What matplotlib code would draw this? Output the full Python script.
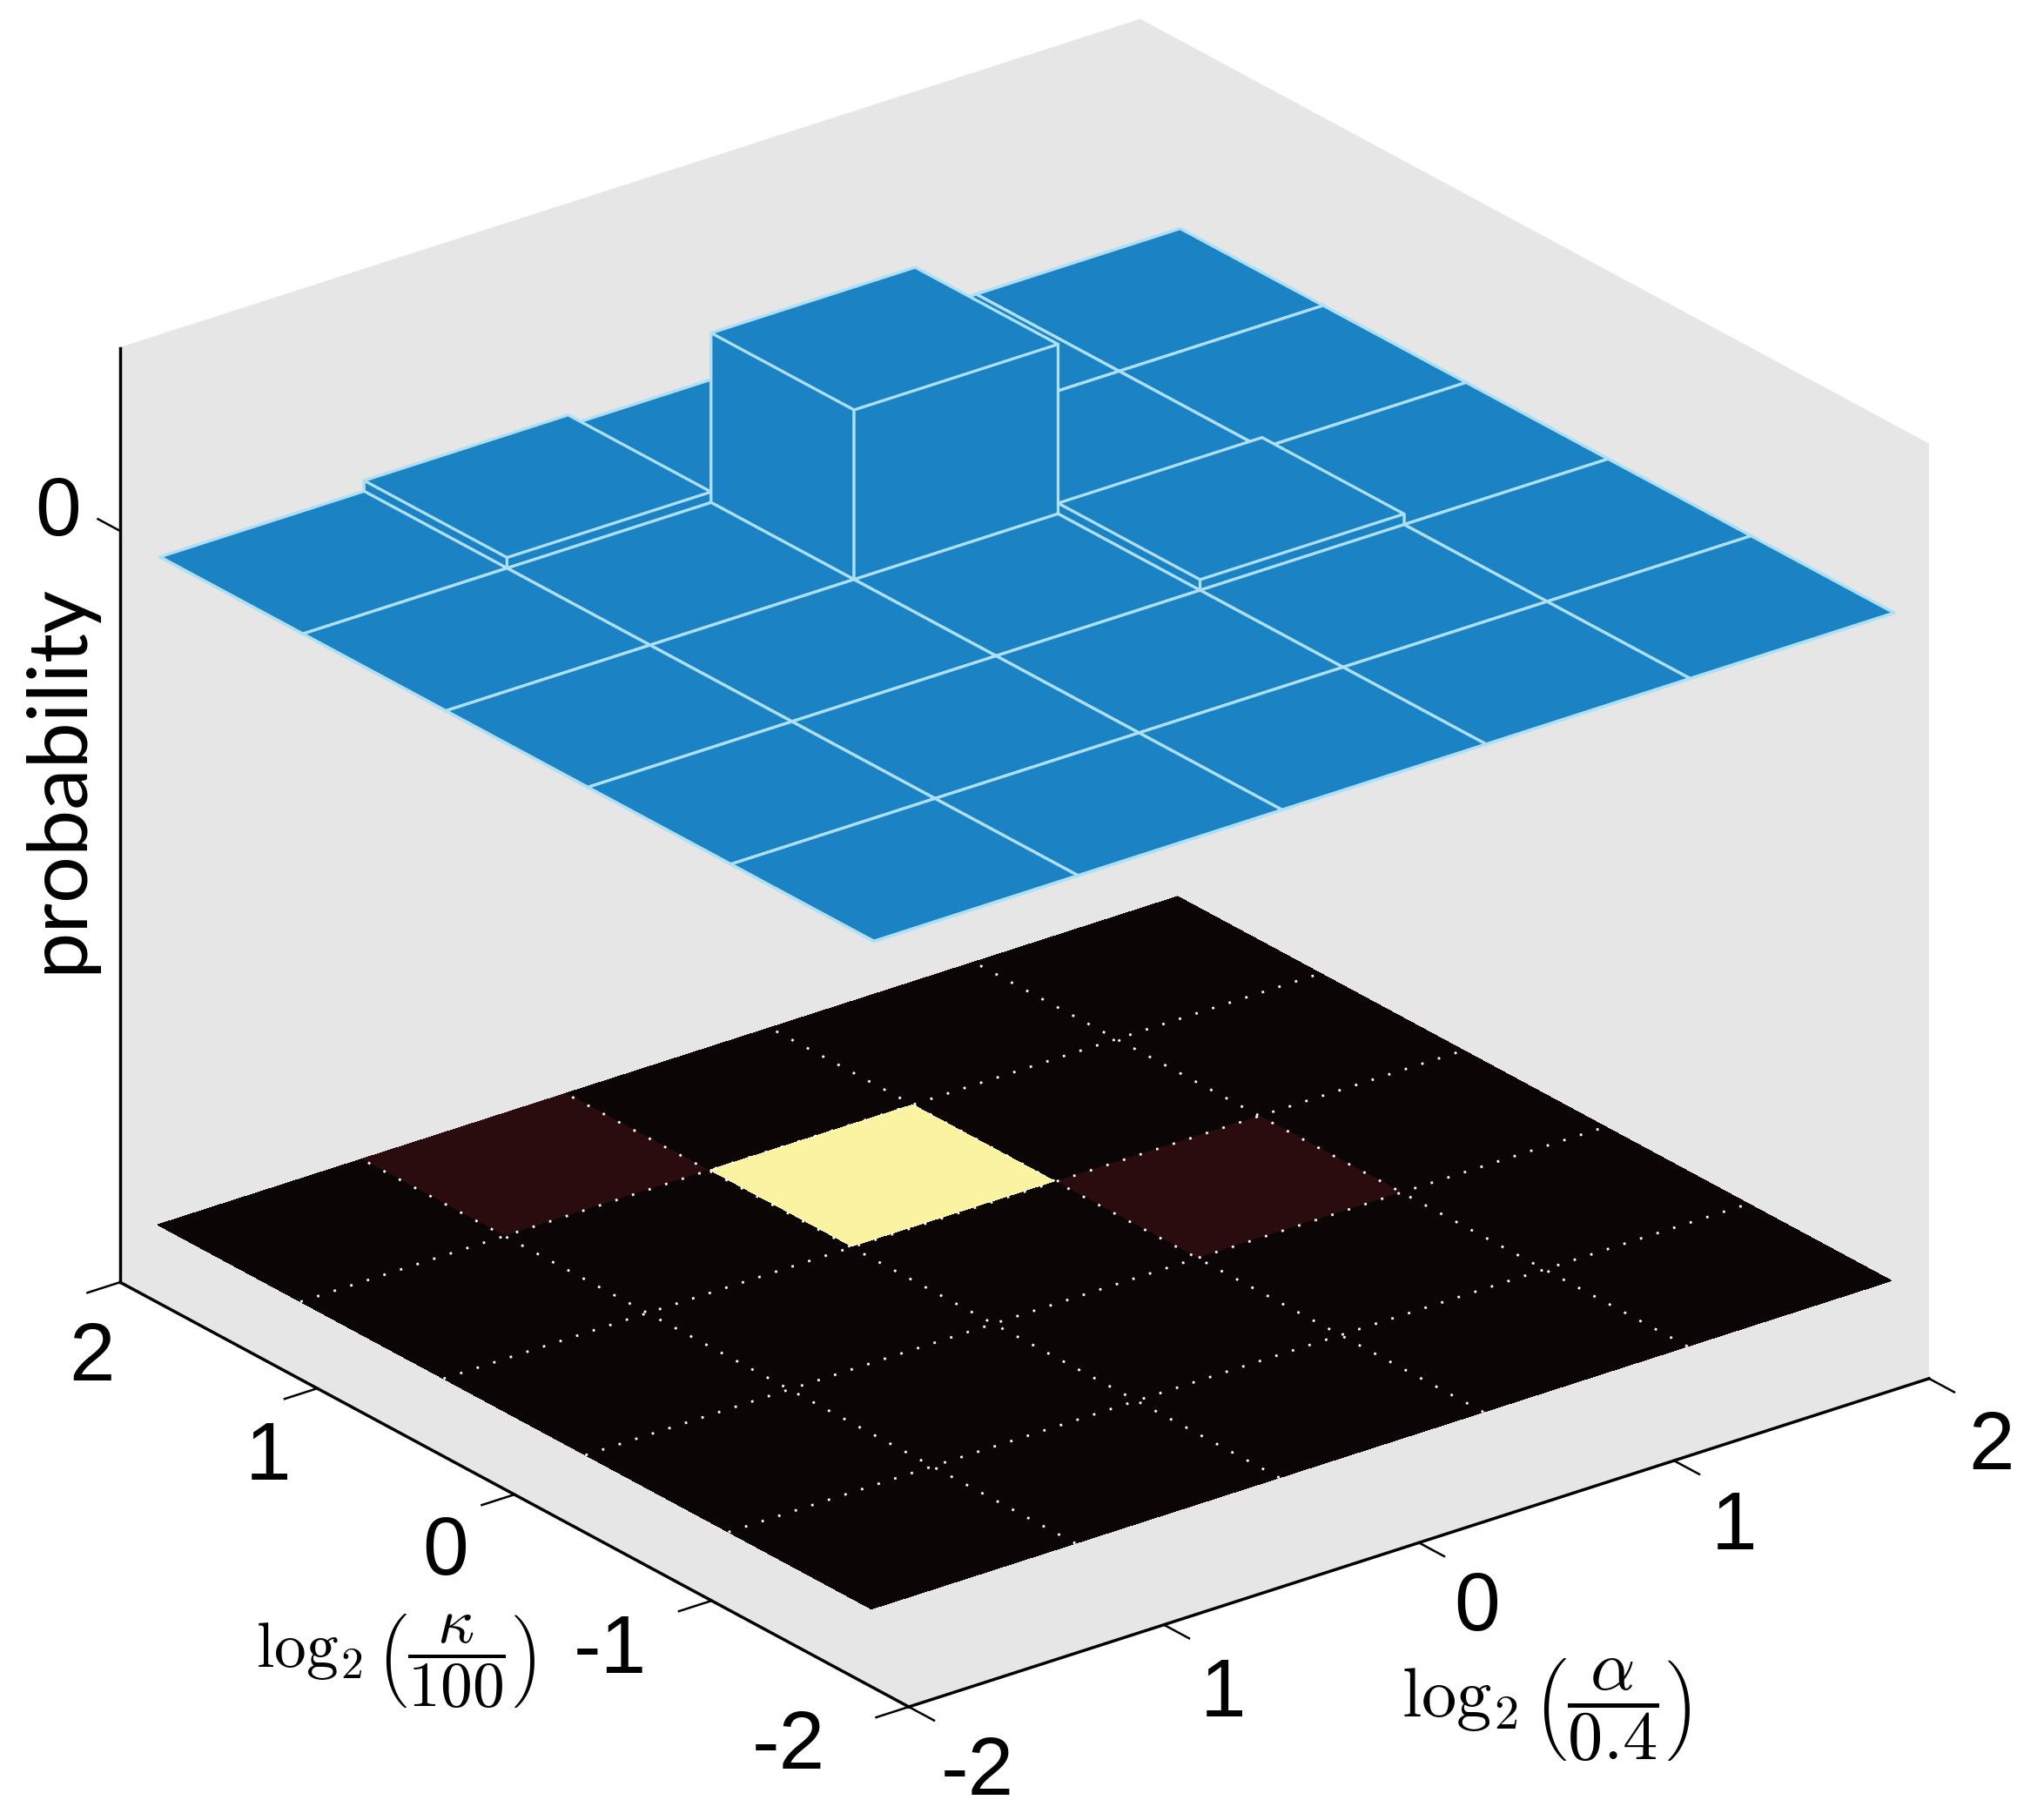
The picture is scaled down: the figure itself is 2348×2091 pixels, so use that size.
import numpy as np
import matplotlib
matplotlib.use('Agg')
import matplotlib.pyplot as plt
from matplotlib.colors import LinearSegmentedColormap
from mpl_toolkits.mplot3d import proj3d

# cell edges and probabilities
alpha_edges = [-2.0, -1.2, -0.4, 0.4, 1.2, 2.0]
kappa_edges = [-1.81, -1.085, -0.36, 0.36, 1.085, 1.81]
# the blue surface sits a hair off the floor grid in the picture
surf_alpha_edges = [-1.994, -1.194, -0.394, 0.406, 1.206, 2.006]
surf_kappa_edges = [-1.815, -1.09, -0.365, 0.355, 1.08, 1.805]
prob = [[0.0, 0.0, 0.0, 0.0, 0.0],
        [0.0, 0.0, 0.0, 0.0, 0.0],
        [0.0, 0.0, 0.0, 0.055, 0.0],
        [0.0, 0.0, 0.88, 0.0, 0.0],
        [0.0, 0.055, 0.0, 0.0, 0.0]]
alpha_ticks = [-2, -1, 0, 1, 2]
alpha_labels = ['-2', '1', '0', '1', '2']
kappa_ticks = [-2, -1, 0, 1, 2]
kappa_labels = ['-2', '-1', '0', '1', '2']
z_ticks = [0.03]
z_labels = ['0']
z_min, z_max = -3.87, 0.98
floor_z = -3.467

# where the tick labels sit, in pixels of the full picture
alpha_label_x = [1123, 1405, 1697, 1992, 2287]
alpha_label_y = [2037, 1948, 1849, 1756, 1663]
kappa_label_x = [906, 701, 512, 308, 105]
kappa_label_y = [2008, 1898, 1785, 1676, 1562]
z_label_x = [67]
z_label_y = [590]

W, H = 2348, 2091
blue = '#1b82c4'
edge_blue = '#ade0f7'
wall = '#e6e6e6'
tick_font = 'Liberation Sans'
tick_size = 68

plt.rcParams['mathtext.fontset'] = 'cm'

fig = plt.figure(figsize=(W / 100, H / 100), dpi=100)
ax = fig.add_axes([0, 0, 1, 1], projection='3d', computed_zorder=False)
ax.set_proj_type('ortho')
ax.view_init(elev=24.6, azim=-127.71)
ax.set_box_aspect((990, 990, 789))
ax.set_xlim(-2, 2, view_margin=0)
ax.set_ylim(-2, 2, view_margin=0)
ax.set_zlim(z_min, z_max, view_margin=0)

# place the axes so the box lands where the reference has it
M = ax.get_proj()
front = proj3d.proj_transform(-2, -2, z_min, M)
left = proj3d.proj_transform(-2, 2, z_min, M)
right = proj3d.proj_transform(2, -2, z_min, M)
vx0, vx1 = ax.viewLim.intervalx
vy0, vy1 = ax.viewLim.intervaly
k = 2078 / (right[0] - left[0])
S = k * (vx1 - vx0)
L = 1044 - (front[0] - vx0) * k
B = (H - 1961) - (front[1] - vy0) * k
ax.set_position([L / W, B / H, S / W, S / H])

prob = np.array(prob)
A, K = np.meshgrid(alpha_edges, kappa_edges)

# heat map on the floor
cmap = LinearSegmentedColormap.from_list('floor', [(0, '#0c0506'), (0.0625, '#2a0b0e'), (0.4, '#a03020'),
                                                   (0.7, '#f0a040'), (1, '#faf4a2')])
colors = cmap(prob / prob.max())
ax.plot_surface(A, K, np.full(A.shape, floor_z), facecolors=colors, rstride=1, cstride=1,
                shade=False, linewidth=0, antialiased=False, zorder=1)
for a in alpha_edges[1:-1]:
    ax.plot([a, a], [kappa_edges[0], kappa_edges[-1]], [floor_z, floor_z], color='white',
            lw=2, ls=(0, (1, 6.2)), zorder=2)
for c in kappa_edges[1:-1]:
    ax.plot([alpha_edges[0], alpha_edges[-1]], [c, c], [floor_z, floor_z], color='white',
            lw=2, ls=(0, (1, 6.2)), zorder=2)

# blue bars
for_x, for_y = np.meshgrid(surf_alpha_edges[:-1], surf_kappa_edges[:-1])
dx, dy = np.meshgrid(np.diff(surf_alpha_edges), np.diff(surf_kappa_edges))
ax.bar3d(for_x.ravel(), for_y.ravel(), np.zeros(25), dx.ravel(), dy.ravel(), prob.ravel(),
         color=blue, edgecolor=edge_blue, linewidth=2.3, shade=False, zorder=3)

ax.grid(False)
for axis in (ax.xaxis, ax.yaxis, ax.zaxis):
    axis.set_pane_color(wall)
    axis.pane.set_edgecolor(wall)
    axis.line.set_color('black')
    axis.line.set_linewidth(2.5)
    axis._axinfo['tick']['inward_factor'] = 0.4
    axis._axinfo['tick']['outward_factor'] = 0
    axis._axinfo['tick']['linewidth'] = {True: 1.8, False: 1.0}

# z tick runs along kappa in the reference
ax.zaxis._get_tickdir = lambda pos: 1
ax.zaxis._axinfo['tick']['inward_factor'] = 0
ax.zaxis._axinfo['tick']['outward_factor'] = 0.35

ax.set_xticks(alpha_ticks, [''] * 5)
ax.set_yticks(kappa_ticks, [''] * 5)
ax.set_zticks(z_ticks, [''])

for xs, ys, labels in [(alpha_label_x, alpha_label_y, alpha_labels),
                       (kappa_label_x, kappa_label_y, kappa_labels),
                       (z_label_x, z_label_y, z_labels)]:
    for x, y, s in zip(xs, ys, labels):
        fig.text(x / W, 1 - y / H, s, fontsize=tick_size, family=tick_font, ha='center', va='center')

fig.text(24 / W, 1 - 895 / H, 'probability', rotation=90, fontsize=68.5, family='Lato',
         ha='left', va='center')
fig.text(454 / W, 1 - 1909 / H, r'$\log_2\left(\dfrac{\kappa}{100}\right)$', fontsize=53,
         ha='center', va='center')
fig.text(1776 / W, 1 - 1965 / H, r'$\log_2\left(\dfrac{\alpha}{0.4}\right)$', fontsize=58,
         ha='center', va='center')

fig.savefig('out.png', dpi=100)
